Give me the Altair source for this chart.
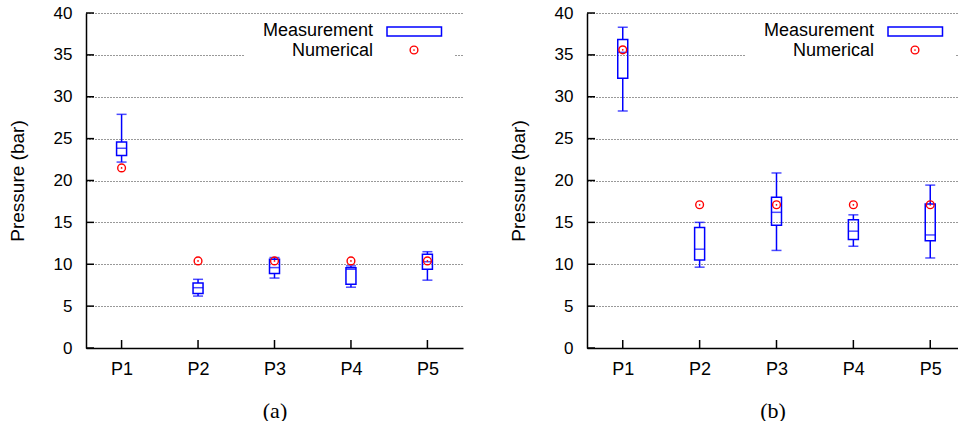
import altair as alt
import pandas as pd

categories = ["P1", "P2", "P3", "P4", "P5"]
positions = [1, 2, 3, 4, 5]
y_ticks = [0, 5, 10, 15, 20, 25, 30, 35, 40]

# panel (a)
a_low = [22.2, 6.2, 8.35, 7.26, 8.1]
a_q1 = [23.0, 6.5, 8.9, 7.6, 9.4]
a_med = [23.85, 7.2, 9.6, 9.4, 10.3]
a_q3 = [24.6, 7.75, 10.6, 9.57, 11.2]
a_high = [27.9, 8.2, 10.8, 9.8, 11.5]
a_num = [21.5, 10.4, 10.4, 10.4, 10.4]

# panel (b)
b_low = [28.3, 9.65, 11.65, 12.15, 10.75]
b_q1 = [32.2, 10.5, 14.65, 12.95, 12.8]
b_med = [35.3, 11.8, 16.2, 13.95, 13.5]
b_q3 = [36.85, 14.4, 18.0, 15.3, 17.2]
b_high = [38.3, 15.0, 20.9, 15.9, 19.45]
b_num = [35.6, 17.1, 17.1, 17.1, 17.1]

SANS = "Liberation Sans"
BLUE = "#0000ff"
RED = "#ff0000"


def panel(low, q1, med, q3, high, num, caption, xmax, width):
    df = pd.DataFrame({"pos": positions, "cat": categories, "low": low, "q1": q1,
                       "med": med, "q3": q3, "high": high, "num": num})
    ticks_df = pd.DataFrame({"v": y_ticks})
    xs = alt.Scale(domain=[0.6, xmax], nice=False, zero=False)
    ys = alt.Scale(domain=[0, 40], nice=False, zero=False)
    xax = alt.Axis(values=positions, labelExpr="'P' + datum.value", ticks=False, tickSize=0,
                   grid=False, title=caption, titleFont="Liberation Serif", titleFontSize=22,
                   titleFontWeight="normal", titleColor="black", titlePadding=22,
                   labelFont=SANS, labelFontSize=18, labelColor="black", labelPadding=12,
                   domainColor="black", domainWidth=1.5, labelFlush=False)
    yax = alt.Axis(values=y_ticks, ticks=False, tickSize=0, grid=True, gridDash=[1, 2],
                   gridColor="#333333", gridWidth=1, title="Pressure (bar)",
                   titleFont=SANS, titleFontSize=19, titleFontWeight="normal",
                   titleColor="black", titlePadding=26, labelFont=SANS, labelFontSize=17,
                   labelColor="black", labelPadding=14, domainColor="black", domainWidth=1.5,
                   labelFlush=False)
    base = alt.Chart(df)
    X = alt.X("pos:Q", scale=xs, axis=xax)

    legend_bg = alt.Chart(ticks_df).transform_filter("datum.v == 0").mark_rect(color="white").encode(
        x=alt.value(158), x2=alt.value(368), y=alt.value(5), y2=alt.value(58))

    whisk_lo = base.mark_rule(color=BLUE, strokeWidth=1.5).encode(
        x=X, y=alt.Y("low:Q", scale=ys, axis=yax), y2="q1:Q")
    whisk_hi = base.mark_rule(color=BLUE, strokeWidth=1.5).encode(
        x="pos:Q", y="q3:Q", y2="high:Q")
    box = base.mark_bar(fill=None, fillOpacity=0, stroke=BLUE, strokeWidth=1.5, size=10).encode(
        x="pos:Q", y="q1:Q", y2="q3:Q")
    tick_kw = dict(orient="horizontal", color=BLUE, thickness=1.5, size=10)
    cap_lo = base.mark_tick(**tick_kw).encode(x="pos:Q", y="low:Q")
    cap_hi = base.mark_tick(**tick_kw).encode(x="pos:Q", y="high:Q")
    median = base.mark_tick(**tick_kw).encode(x="pos:Q", y="med:Q")
    num_ring = base.mark_point(shape="circle", size=60, stroke=RED, strokeWidth=1.4,
                               filled=False, opacity=1).encode(x="pos:Q", y="num:Q")
    num_dot = base.mark_point(shape="circle", size=3, color=RED, filled=True,
                              opacity=1).encode(x="pos:Q", y="num:Q")

    ytick_marks = alt.Chart(ticks_df).mark_rule(color="black", strokeWidth=1.5).encode(
        y=alt.Y("v:Q", scale=ys), x=alt.value(0), x2=alt.value(8))
    xtick_marks = base.mark_rule(color="black", strokeWidth=1.5).encode(
        x="pos:Q", y=alt.value(335), y2=alt.value(327))

    one = alt.Chart(ticks_df).transform_filter("datum.v == 0")
    leg_t1 = one.mark_text(text="Measurement", align="right", baseline="middle", font=SANS,
                           fontSize=18, color="black").encode(x=alt.value(287), y=alt.value(18))
    leg_t2 = one.mark_text(text="Numerical", align="right", baseline="middle", font=SANS,
                           fontSize=18, color="black").encode(x=alt.value(287), y=alt.value(37.5))
    leg_box = one.mark_rect(fill=None, fillOpacity=0, stroke=BLUE, strokeWidth=1.5).encode(
        x=alt.value(301), x2=alt.value(355.5), y=alt.value(14), y2=alt.value(23))
    leg_ring = one.mark_point(shape="circle", size=60, stroke=RED, strokeWidth=1.4, filled=False,
                              opacity=1).encode(x=alt.value(328), y=alt.value(37))
    leg_dot = one.mark_point(shape="circle", size=3, color=RED, filled=True,
                             opacity=1).encode(x=alt.value(328), y=alt.value(37))

    return alt.layer(whisk_lo, legend_bg, whisk_hi, box, cap_lo, cap_hi, median,
                     ytick_marks, xtick_marks, num_ring, num_dot,
                     leg_t1, leg_t2, leg_box, leg_ring, leg_dot).properties(
        width=width, height=335)


left = panel(a_low, a_q1, a_med, a_q3, a_high, a_num, "(a)", 5.4, 377)
right = panel(b_low, b_q1, b_med, b_q3, b_high, b_num, "(b)", 5.296, 371)

chart = alt.hconcat(left, right, spacing=46).properties(
    padding={"left": 8, "top": 4, "right": 0, "bottom": 0},
    background="white",
).configure_view(stroke=None)

chart.save("out.html", embed_options={"renderer": "svg", "actions": False})
